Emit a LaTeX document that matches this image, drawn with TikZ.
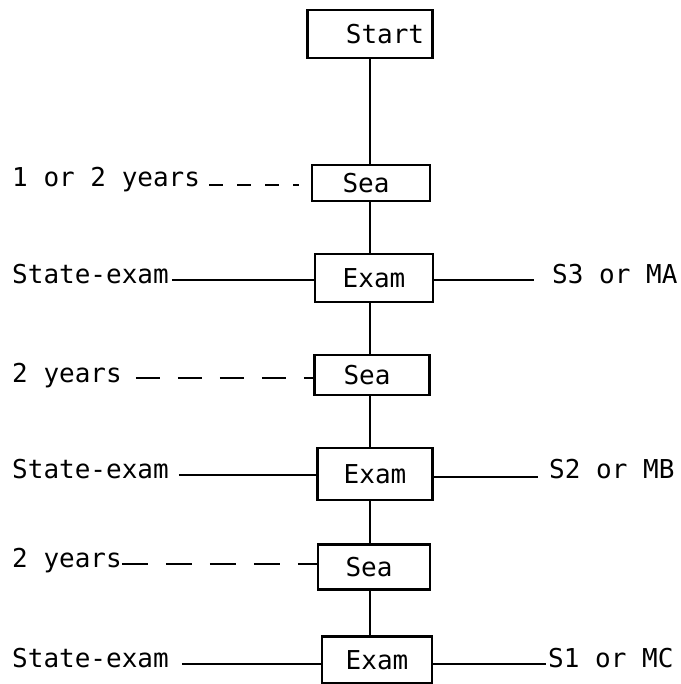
\documentclass[tikz,border=0pt]{standalone}
\usepackage{fontspec}
\setmainfont{DejaVu Sans Mono}
\begin{document}
\begin{tikzpicture}[x=1pt,y=-1pt,
  box/.style={draw,line width=2.6pt,fill=white,minimum width=#1,inner sep=0pt,font=\fontsize{26}{28}\selectfont},
  lab/.style={inner sep=0pt,anchor=base west,font=\fontsize{26}{28}\selectfont},
  conn/.style={line width=1.8pt},
  dconn/.style={line width=1.8pt,dash pattern=on #1},
  dconn/.default={14pt off 14pt}]
\useasboundingbox (0,0) rectangle (680,684);
% boxes
\node[box=125pt,minimum height=48pt] (start) at (370,34) {\hspace*{30pt}Start};
\node[box=118pt,minimum height=36pt] (sea1) at (371,183) {Sea\hspace*{10pt}};
\node[box=118pt,minimum height=48pt] (exam1) at (374,278) {Exam};
\node[box=115pt,minimum height=40pt] (sea2) at (372,375) {Sea\hspace*{10pt}};
\node[box=115pt,minimum height=52pt] (exam2) at (375,474) {Exam};
\node[box=112pt,minimum height=45pt] (sea3) at (374,567) {Sea\hspace*{10pt}};
\node[box=110pt,minimum height=47pt] (exam3) at (377,660) {Exam};
% spine
\coordinate (sp) at (370,0);
\draw[conn] (sp |- start.south) -- (sp |- sea1.north);
\draw[conn] (sp |- sea1.south) -- (sp |- exam1.north);
\draw[conn] (sp |- exam1.south) -- (sp |- sea2.north);
\draw[conn] (sp |- sea2.south) -- (sp |- exam2.north);
\draw[conn] (sp |- exam2.south) -- (sp |- sea3.north);
\draw[conn] (sp |- sea3.south) -- (sp |- exam3.north);
% left labels
\node[lab] (l1) at (12,187) {1 or 2 years};
\node[lab] (l2) at (12,283) {State-exam};
\node[lab] (l3) at (12,382) {2 years};
\node[lab] (l4) at (12,478) {State-exam};
\node[lab] (l5) at (12,567) {2 years};
\node[lab] (l6) at (12,667) {State-exam};
% right labels
\node[lab] (r1) at (552,283) {S3 or MA};
\node[lab] (r2) at (549,478) {S2 or MB};
\node[lab] (r3) at (548,667) {S1 or MC};
% connectors
\draw[dconn] ([xshift=9pt,yshift=2pt]l1.base east) -- ([xshift=-12pt,yshift=2pt]sea1.west |- l1.base east);
\draw[conn] ([xshift=3pt,yshift=3pt]l2.base east) -- ([yshift=3pt]exam1.west |- l2.base east);
\draw[dconn={24pt off 18pt}] ([xshift=14pt,yshift=4pt]l3.base east) -- ([yshift=4pt]sea2.west |- l3.base east);
\draw[conn] ([xshift=10pt,yshift=3pt]l4.base east) -- ([yshift=3pt]exam2.west |- l4.base east);
\draw[dconn={26pt off 18pt}] ([xshift=0pt,yshift=3pt]l5.base east) -- ([yshift=3pt]sea3.west |- l5.base east);
\draw[conn] ([xshift=13pt,yshift=3pt]l6.base east) -- ([yshift=3pt]exam3.west |- l6.base east);
\draw[conn] ([yshift=3pt]exam1.east |- r1.base west) -- ([xshift=-18pt,yshift=3pt]r1.base west);
\draw[conn] ([yshift=1pt]exam2.east |- r2.base west) -- ([xshift=-11pt,yshift=1pt]r2.base west);
\draw[conn] ([yshift=3pt]exam3.east |- r3.base west) -- ([xshift=-2pt,yshift=3pt]r3.base west);
\end{tikzpicture}
\end{document}
